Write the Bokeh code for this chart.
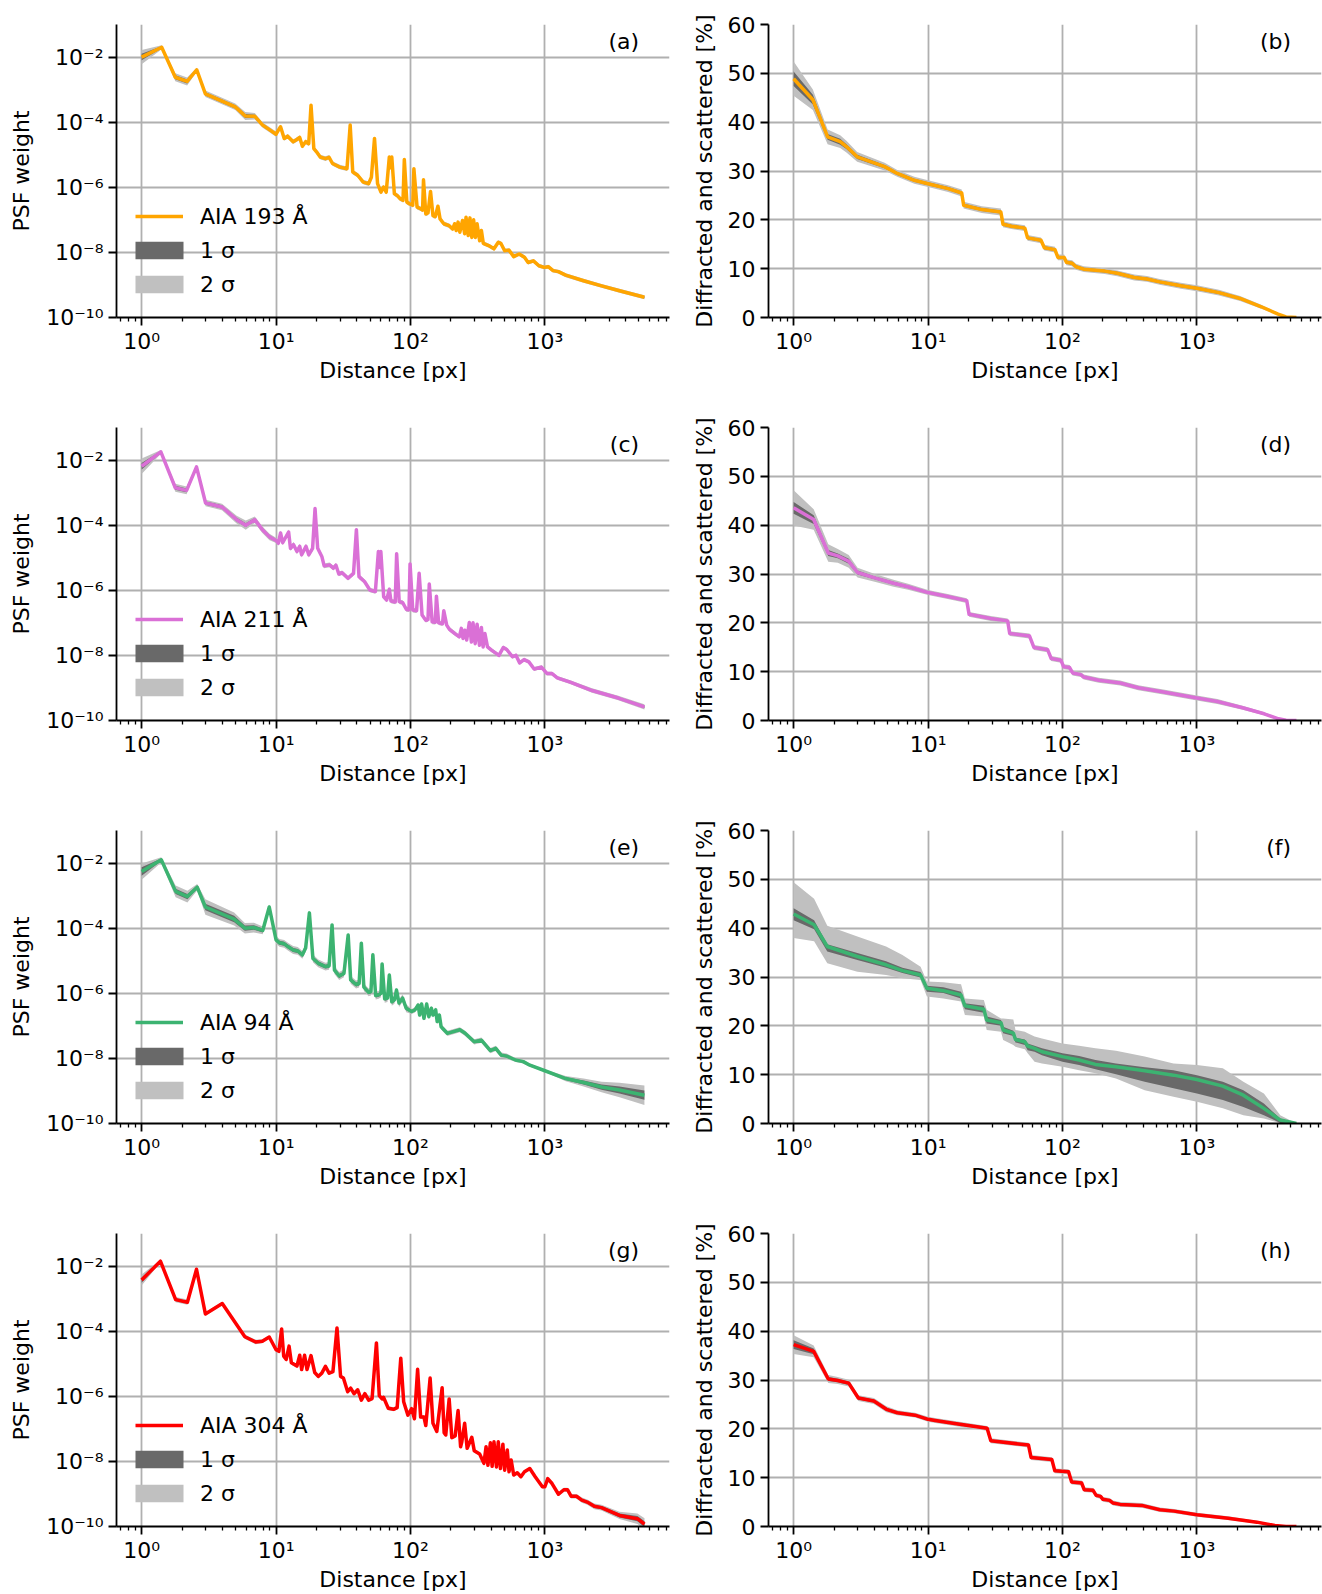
from bokeh.plotting import figure
from bokeh.layouts import gridplot
from bokeh.models import Range1d, FixedTicker, CustomJSTickFormatter, Legend, LegendItem, Label
from bokeh.core.properties import value
from bokeh.embed import file_html
from bokeh.resources import INLINE

# ---------------- data ----------------
X_TICKS = [1, 10, 100, 1000]
X_MINOR = [0.7, 0.8, 0.9, 2, 3, 4, 5, 6, 7, 8, 9, 20, 30, 40, 50, 60, 70, 80, 90,
           200, 300, 400, 500, 600, 700, 800, 900, 2000, 3000, 4000, 5000, 6000, 7000, 8000]
PSF_TICKS = [1e-10, 1e-8, 1e-6, 1e-4, 1e-2]
PCT_TICKS = [0, 10, 20, 30, 40, 50, 60]

# PSF weight: (distance px, log10 weight, 1-sigma half width dex, 2-sigma half width dex)
psf_193 = [
    (1.0, -2.00, 0.10, 0.22), (1.41, -1.70, 0.03, 0.06), (1.78, -2.62, 0.06, 0.12), (2.18, -2.75, 0.06, 0.12),
    (2.57, -2.39, 0.03, 0.06), (2.98, -3.13, 0.05, 0.10), (4.97, -3.53, 0.05, 0.10), (5.9, -3.81, 0.06, 0.12),
    (6.95, -3.82, 0.05, 0.10), (7.95, -4.09, 0.04, 0.08), (8.7, -4.20, 0.04, 0.08), (10.0, -4.37, 0.04, 0.08),
    (10.8, -4.14, 0.03, 0.07), (11.5, -4.50, 0.03, 0.07), (12.2, -4.43, 0.03, 0.07), (13.4, -4.60, 0.03, 0.07),
    (14.2, -4.54, 0.03, 0.07), (15.0, -4.47, 0.03, 0.07), (15.7, -4.74, 0.03, 0.07), (16.6, -4.60, 0.03, 0.07),
    (17.5, -4.66, 0.03, 0.07), (18.2, -3.48, 0.03, 0.06), (19.1, -4.81, 0.03, 0.07), (20.0, -4.91, 0.03, 0.07),
    (21.3, -5.07, 0.03, 0.07), (23.3, -5.12, 0.03, 0.07), (24.8, -5.08, 0.03, 0.07), (26.3, -5.27, 0.03, 0.07),
    (29.8, -5.38, 0.03, 0.07), (33.7, -5.43, 0.03, 0.07), (35.6, -4.09, 0.03, 0.06), (37.2, -5.53, 0.03, 0.07),
    (40.5, -5.63, 0.03, 0.07), (44.5, -5.84, 0.03, 0.07), (48.8, -5.89, 0.03, 0.07), (51.2, -5.69, 0.03, 0.07),
    (54.0, -4.50, 0.03, 0.06), (56.9, -5.89, 0.03, 0.07), (60.3, -6.15, 0.03, 0.07), (63.0, -5.99, 0.03, 0.07),
    (66.0, -6.15, 0.03, 0.07), (69.6, -5.07, 0.03, 0.06), (71.1, -5.40, 0.03, 0.06), (72.6, -5.07, 0.03, 0.06),
    (75.9, -6.20, 0.03, 0.07), (79.6, -6.25, 0.03, 0.07), (83.6, -6.35, 0.03, 0.07), (88.0, -6.40, 0.03, 0.07),
    (90.0, -5.15, 0.03, 0.06), (94.0, -6.46, 0.03, 0.07), (98.8, -6.51, 0.03, 0.07), (104, -6.55, 0.03, 0.07),
    (106, -5.43, 0.03, 0.06), (112, -6.61, 0.03, 0.07), (119, -6.66, 0.03, 0.07), (123, -6.70, 0.03, 0.07),
    (125, -5.77, 0.03, 0.06), (130, -6.82, 0.03, 0.07), (135, -6.79, 0.03, 0.07), (141, -6.13, 0.03, 0.06),
    (147, -6.87, 0.03, 0.07), (153, -6.90, 0.03, 0.07), (160, -6.58, 0.03, 0.06), (166, -6.97, 0.03, 0.07),
    (177, -7.12, 0.03, 0.07), (194, -7.18, 0.03, 0.07), (206, -7.28, 0.03, 0.07), (213, -7.12, 0.03, 0.06),
    (219, -7.33, 0.03, 0.06), (226, -7.07, 0.03, 0.06), (233, -7.38, 0.03, 0.06), (244, -7.02, 0.03, 0.06),
    (253, -7.43, 0.03, 0.06), (259, -6.92, 0.03, 0.06), (269, -7.48, 0.03, 0.06), (277, -6.94, 0.03, 0.06),
    (286, -7.54, 0.03, 0.06), (295, -7.00, 0.03, 0.06), (304, -7.54, 0.03, 0.06), (313, -7.12, 0.03, 0.06),
    (327, -7.64, 0.03, 0.06), (337, -7.33, 0.03, 0.06), (348, -7.72, 0.03, 0.06), (381, -7.79, 0.03, 0.06),
    (418, -7.89, 0.03, 0.06), (450, -7.69, 0.03, 0.06), (470, -7.72, 0.03, 0.06), (502, -7.95, 0.03, 0.06),
    (540, -7.93, 0.03, 0.06), (586, -8.13, 0.03, 0.06), (643, -8.05, 0.03, 0.06), (705, -8.15, 0.03, 0.06),
    (750, -8.31, 0.03, 0.06), (822, -8.26, 0.03, 0.06), (902, -8.41, 0.03, 0.06), (989, -8.46, 0.03, 0.06),
    (1060, -8.44, 0.03, 0.06), (1150, -8.56, 0.03, 0.06), (1260, -8.59, 0.03, 0.06), (1428, -8.70, 0.03, 0.06),
    (1940, -8.87, 0.03, 0.06), (2640, -9.03, 0.03, 0.06), (3590, -9.18, 0.03, 0.06), (5500, -9.38, 0.03, 0.06),
]

psf_211 = [
    (1.0, -2.19, 0.10, 0.24), (1.39, -1.75, 0.03, 0.06), (1.78, -2.85, 0.06, 0.12), (2.16, -2.93, 0.06, 0.12),
    (2.56, -2.21, 0.03, 0.06), (2.99, -3.32, 0.05, 0.10), (3.96, -3.44, 0.05, 0.10), (5.09, -3.83, 0.06, 0.12),
    (5.95, -4.00, 0.06, 0.14), (6.95, -3.83, 0.05, 0.10), (7.88, -4.13, 0.05, 0.10), (8.94, -4.36, 0.05, 0.10),
    (10.0, -4.47, 0.04, 0.08), (10.4, -4.55, 0.04, 0.08), (10.8, -4.24, 0.04, 0.08), (11.2, -4.54, 0.04, 0.08),
    (12.4, -4.21, 0.04, 0.08), (12.8, -4.71, 0.04, 0.08), (13.5, -4.60, 0.04, 0.08), (14.3, -4.81, 0.04, 0.08),
    (15.0, -4.65, 0.04, 0.08), (15.5, -4.91, 0.04, 0.08), (16.7, -4.65, 0.04, 0.08), (17.5, -4.91, 0.04, 0.08),
    (18.7, -4.71, 0.04, 0.08), (19.5, -3.49, 0.03, 0.06), (20.4, -4.71, 0.04, 0.08), (21.9, -4.96, 0.04, 0.08),
    (22.8, -5.25, 0.03, 0.07), (25.0, -5.22, 0.03, 0.07), (26.7, -5.32, 0.03, 0.07), (27.9, -5.23, 0.03, 0.07),
    (29.3, -5.50, 0.03, 0.07), (31.0, -5.46, 0.03, 0.07), (34.3, -5.63, 0.03, 0.07), (37.7, -5.48, 0.03, 0.07),
    (39.6, -4.14, 0.03, 0.06), (41.4, -5.58, 0.03, 0.07), (45.5, -5.73, 0.03, 0.07), (49.9, -5.99, 0.03, 0.07),
    (54.8, -6.04, 0.03, 0.07), (57.7, -4.81, 0.03, 0.06), (58.9, -5.30, 0.03, 0.06), (60.2, -4.81, 0.03, 0.06),
    (63.2, -6.20, 0.03, 0.07), (66.5, -6.30, 0.03, 0.07), (69.6, -5.97, 0.03, 0.07), (71.6, -6.33, 0.03, 0.07),
    (77.0, -6.36, 0.03, 0.07), (78.9, -4.88, 0.03, 0.06), (82.4, -6.35, 0.03, 0.07), (87.5, -6.38, 0.03, 0.07),
    (93.3, -6.59, 0.03, 0.07), (97.5, -6.60, 0.03, 0.07), (99.3, -5.19, 0.03, 0.06), (104, -6.61, 0.03, 0.07),
    (111, -6.63, 0.03, 0.07), (116, -5.48, 0.03, 0.06), (122, -6.76, 0.03, 0.07), (130, -6.92, 0.03, 0.07),
    (135, -6.90, 0.03, 0.07), (138, -5.81, 0.03, 0.06), (145, -6.97, 0.03, 0.07), (153, -6.98, 0.03, 0.07),
    (156, -6.18, 0.03, 0.06), (162, -7.00, 0.03, 0.07), (173, -7.03, 0.03, 0.07), (177, -6.63, 0.03, 0.06),
    (186, -7.07, 0.03, 0.07), (195, -7.20, 0.03, 0.07), (214, -7.33, 0.03, 0.07), (231, -7.43, 0.03, 0.06),
    (239, -7.17, 0.03, 0.06), (246, -7.48, 0.03, 0.06), (254, -7.23, 0.03, 0.06), (262, -7.53, 0.03, 0.06),
    (274, -6.99, 0.03, 0.06), (284, -7.59, 0.03, 0.06), (292, -7.00, 0.03, 0.06), (303, -7.64, 0.03, 0.06),
    (313, -7.04, 0.03, 0.06), (326, -7.69, 0.03, 0.06), (337, -7.14, 0.03, 0.06), (347, -7.74, 0.03, 0.06),
    (358, -7.33, 0.03, 0.06), (374, -7.74, 0.03, 0.06), (401, -7.84, 0.03, 0.06), (455, -8.00, 0.03, 0.06),
    (490, -7.76, 0.03, 0.06), (520, -7.82, 0.03, 0.06), (573, -8.04, 0.03, 0.06), (610, -8.00, 0.03, 0.06),
    (649, -8.23, 0.03, 0.06), (700, -8.13, 0.03, 0.06), (760, -8.20, 0.03, 0.06), (832, -8.42, 0.03, 0.06),
    (942, -8.36, 0.03, 0.06), (1038, -8.56, 0.03, 0.06), (1130, -8.56, 0.03, 0.06), (1237, -8.69, 0.03, 0.06),
    (1541, -8.82, 0.03, 0.06), (2245, -9.08, 0.03, 0.07), (3517, -9.31, 0.03, 0.07), (5500, -9.58, 0.04, 0.08),
]

psf_94 = [
    (1.0, -2.26, 0.13, 0.25), (1.40, -1.90, 0.04, 0.08), (1.79, -2.87, 0.08, 0.18), (2.19, -3.03, 0.08, 0.18),
    (2.59, -2.74, 0.05, 0.10), (2.98, -3.35, 0.10, 0.24), (4.88, -3.72, 0.10, 0.20), (5.86, -4.00, 0.08, 0.16),
    (6.83, -3.98, 0.07, 0.15), (7.96, -4.07, 0.06, 0.12), (8.90, -3.35, 0.04, 0.08), (10.0, -4.36, 0.06, 0.12),
    (10.6, -4.45, 0.06, 0.12), (11.5, -4.48, 0.06, 0.12), (12.4, -4.58, 0.06, 0.12), (13.4, -4.67, 0.06, 0.12),
    (14.5, -4.70, 0.06, 0.12), (15.7, -4.82, 0.06, 0.12), (16.6, -4.61, 0.06, 0.12), (17.7, -3.53, 0.04, 0.08),
    (18.8, -4.93, 0.06, 0.12), (20.6, -5.08, 0.06, 0.12), (23.3, -5.18, 0.06, 0.12), (24.8, -5.16, 0.06, 0.12),
    (26.1, -3.90, 0.04, 0.08), (27.2, -5.29, 0.06, 0.12), (29.5, -5.47, 0.06, 0.12), (32.0, -5.39, 0.06, 0.12),
    (34.4, -4.21, 0.04, 0.08), (35.9, -5.59, 0.06, 0.12), (39.4, -5.73, 0.06, 0.12), (41.5, -5.70, 0.06, 0.12),
    (43.1, -4.46, 0.04, 0.08), (45.0, -5.81, 0.06, 0.12), (48.8, -5.97, 0.06, 0.12), (50.8, -5.95, 0.06, 0.12),
    (52.5, -4.82, 0.04, 0.08), (55.1, -6.07, 0.06, 0.12), (58.0, -6.05, 0.06, 0.12), (60.3, -6.00, 0.06, 0.12),
    (61.5, -5.10, 0.04, 0.08), (64.3, -6.17, 0.06, 0.12), (67.5, -6.15, 0.06, 0.12), (69.6, -5.44, 0.04, 0.08),
    (72.6, -6.26, 0.06, 0.12), (76.0, -6.20, 0.06, 0.12), (78.7, -5.90, 0.04, 0.08), (82.2, -6.30, 0.06, 0.12),
    (87.4, -6.15, 0.06, 0.12), (92.9, -6.46, 0.06, 0.12), (102, -6.56, 0.04, 0.08), (108, -6.51, 0.04, 0.08),
    (114, -6.36, 0.04, 0.08), (117, -6.67, 0.04, 0.08), (121, -6.33, 0.04, 0.08), (126, -6.77, 0.04, 0.08),
    (132, -6.33, 0.04, 0.08), (137, -6.72, 0.04, 0.08), (143, -6.46, 0.04, 0.08), (147, -6.67, 0.04, 0.08),
    (154, -6.51, 0.04, 0.08), (158, -6.87, 0.04, 0.08), (164, -6.67, 0.04, 0.08), (169, -7.03, 0.04, 0.08),
    (188, -7.23, 0.04, 0.08), (233, -7.12, 0.04, 0.08), (255, -7.23, 0.04, 0.08), (298, -7.49, 0.04, 0.08),
    (337, -7.44, 0.04, 0.08), (393, -7.76, 0.04, 0.08), (431, -7.69, 0.04, 0.08), (473, -7.90, 0.04, 0.08),
    (520, -7.93, 0.04, 0.08), (604, -8.05, 0.03, 0.06), (690, -8.10, 0.03, 0.06), (773, -8.21, 0.03, 0.05),
    (1000, -8.38, 0.02, 0.04), (1428, -8.62, 0.04, 0.08), (1940, -8.74, 0.06, 0.12), (2640, -8.88, 0.08, 0.16),
    (3590, -8.97, 0.11, 0.22), (5500, -9.13, 0.14, 0.30),
]

psf_304 = [
    (1.0, -2.43, 0.08, 0.17), (1.38, -1.85, 0.02, 0.04), (1.79, -3.03, 0.04, 0.08), (2.19, -3.11, 0.04, 0.08),
    (2.56, -2.10, 0.02, 0.04), (2.98, -3.47, 0.03, 0.06), (3.98, -3.15, 0.03, 0.05), (5.86, -4.17, 0.04, 0.07),
    (7.05, -4.33, 0.04, 0.07), (7.9, -4.31, 0.03, 0.06), (8.9, -4.18, 0.03, 0.05), (10.0, -4.57, 0.03, 0.06),
    (10.5, -4.62, 0.03, 0.06), (11.0, -3.93, 0.03, 0.05), (11.4, -4.77, 0.03, 0.06), (11.9, -4.87, 0.03, 0.06),
    (12.5, -4.46, 0.03, 0.05), (13.0, -4.97, 0.03, 0.06), (14.3, -5.07, 0.03, 0.06), (15.0, -4.74, 0.03, 0.05),
    (15.5, -5.18, 0.03, 0.06), (16.3, -4.74, 0.03, 0.05), (17.0, -5.18, 0.03, 0.06), (18.2, -4.75, 0.03, 0.05),
    (19.4, -5.27, 0.03, 0.06), (20.6, -5.39, 0.03, 0.06), (21.9, -5.29, 0.03, 0.06), (23.3, -5.08, 0.03, 0.05),
    (24.8, -5.29, 0.03, 0.06), (26.5, -5.24, 0.03, 0.06), (28.4, -3.90, 0.03, 0.05), (30.2, -5.39, 0.03, 0.06),
    (31.7, -5.44, 0.03, 0.06), (34.1, -5.86, 0.03, 0.06), (35.9, -5.75, 0.03, 0.06), (38.0, -5.92, 0.03, 0.06),
    (40.5, -5.80, 0.03, 0.06), (43.1, -6.12, 0.03, 0.06), (45.8, -5.92, 0.03, 0.06), (48.8, -6.12, 0.03, 0.06),
    (51.8, -6.07, 0.03, 0.06), (55.8, -4.36, 0.03, 0.05), (58.6, -5.98, 0.03, 0.06), (61.5, -6.08, 0.03, 0.06),
    (63.0, -6.03, 0.03, 0.06), (68.4, -6.37, 0.03, 0.06), (74.8, -6.40, 0.03, 0.06), (79.6, -6.35, 0.03, 0.06),
    (84.7, -4.83, 0.03, 0.05), (89.0, -6.17, 0.03, 0.06), (95.7, -6.58, 0.03, 0.06), (102, -6.38, 0.03, 0.06),
    (107, -6.69, 0.03, 0.06), (113, -5.17, 0.03, 0.05), (119, -6.64, 0.03, 0.06), (126, -6.64, 0.03, 0.06),
    (130, -6.90, 0.03, 0.06), (140, -5.44, 0.03, 0.05), (147, -6.83, 0.03, 0.06), (157, -7.08, 0.03, 0.06),
    (172, -5.74, 0.03, 0.05), (178, -7.12, 0.03, 0.06), (183, -7.19, 0.03, 0.06), (194, -6.08, 0.03, 0.05),
    (203, -7.27, 0.03, 0.06), (215, -7.22, 0.03, 0.06), (226, -6.44, 0.03, 0.05), (236, -7.55, 0.03, 0.06),
    (241, -7.40, 0.03, 0.06), (253, -6.83, 0.03, 0.05), (264, -7.60, 0.03, 0.06), (286, -7.26, 0.03, 0.06),
    (298, -7.67, 0.03, 0.06), (327, -7.77, 0.03, 0.06), (352, -8.06, 0.03, 0.05), (365, -7.55, 0.03, 0.05),
    (377, -8.12, 0.03, 0.05), (393, -7.43, 0.03, 0.05), (405, -8.15, 0.03, 0.05), (418, -7.40, 0.03, 0.05),
    (436, -8.17, 0.03, 0.05), (450, -7.40, 0.03, 0.05), (467, -8.22, 0.03, 0.05), (487, -7.47, 0.03, 0.05),
    (502, -8.27, 0.03, 0.05), (525, -7.65, 0.03, 0.05), (541, -8.32, 0.03, 0.05), (561, -7.96, 0.03, 0.05),
    (586, -8.42, 0.03, 0.05), (623, -8.35, 0.03, 0.05), (663, -8.47, 0.03, 0.05), (705, -8.32, 0.03, 0.05),
    (772, -8.22, 0.03, 0.05), (847, -8.47, 0.03, 0.05), (958, -8.78, 0.03, 0.05), (1000, -8.78, 0.03, 0.05),
    (1050, -8.53, 0.03, 0.05), (1130, -8.68, 0.03, 0.05), (1262, -9.01, 0.03, 0.06), (1384, -8.87, 0.03, 0.06),
    (1472, -8.87, 0.03, 0.06), (1566, -9.07, 0.04, 0.07), (1717, -9.07, 0.04, 0.07), (1882, -9.19, 0.04, 0.08),
    (2065, -9.25, 0.04, 0.08), (2333, -9.38, 0.05, 0.09), (2636, -9.42, 0.05, 0.09), (3589, -9.66, 0.06, 0.11),
    (4877, -9.76, 0.08, 0.16), (5510, -9.93, 0.09, 0.18),
]

# Diffracted and scattered fraction [%]: (distance px, value, 1-sigma half width, 2-sigma half width)
cum_193 = [
    (1.0, 48.9, 1.5, 3.5), (1.39, 44.6, 1.0, 2.1), (1.79, 37.0, 0.6, 1.5), (2.22, 36.0, 0.6, 1.3),
    (2.47, 35.0, 0.5, 1.2), (2.97, 32.9, 0.45, 1.0), (4.75, 30.9, 0.35, 0.8), (5.9, 29.5, 0.3, 0.7),
    (7.9, 28.1, 0.3, 0.7), (10.0, 27.4, 0.3, 0.7), (14.1, 26.4, 0.3, 0.7), (17.8, 25.5, 0.3, 0.7),
    (18.4, 23.0, 0.3, 0.7), (25.1, 22.1, 0.3, 0.7), (34.8, 21.6, 0.3, 0.7), (36.1, 19.1, 0.3, 0.6),
    (41.7, 18.7, 0.3, 0.6), (52.5, 18.3, 0.3, 0.6), (55.0, 16.3, 0.3, 0.6), (69.2, 15.8, 0.3, 0.6),
    (73.3, 14.3, 0.3, 0.6), (87.9, 13.9, 0.3, 0.6), (92.5, 12.3, 0.3, 0.6), (103, 12.3, 0.3, 0.6),
    (107, 11.3, 0.3, 0.6), (118, 11.1, 0.3, 0.6), (126, 10.4, 0.3, 0.6), (144, 9.9, 0.3, 0.6),
    (206, 9.5, 0.3, 0.6), (256, 9.05, 0.3, 0.6), (342, 8.2, 0.3, 0.6), (425, 7.9, 0.3, 0.6),
    (528, 7.3, 0.3, 0.6), (758, 6.5, 0.3, 0.6), (1000, 6.0, 0.3, 0.6), (1459, 5.1, 0.3, 0.6),
    (2096, 3.9, 0.25, 0.5), (3013, 2.2, 0.2, 0.4), (4021, 0.7, 0.1, 0.2), (4600, 0.1, 0.05, 0.1),
    (5500, 0.0, 0.0, 0.0),
]

cum_211 = [
    (1.0, 43.55, 1.2, 3.6), (1.41, 41.15, 0.9, 2.1), (1.81, 34.3, 0.6, 1.8), (2.13, 33.7, 0.5, 1.4),
    (2.57, 32.6, 0.5, 1.3), (2.99, 30.3, 0.4, 1.0), (4.07, 29.15, 0.3, 0.8), (5.54, 28.1, 0.3, 0.7),
    (7.1, 27.4, 0.25, 0.6), (10.0, 26.2, 0.2, 0.5), (14.0, 25.4, 0.2, 0.5), (19.4, 24.55, 0.2, 0.5),
    (20.2, 21.74, 0.2, 0.5), (29.3, 20.9, 0.2, 0.5), (39.1, 20.4, 0.2, 0.5), (40.5, 17.8, 0.2, 0.5),
    (56.9, 17.3, 0.2, 0.5), (61.3, 14.95, 0.2, 0.5), (77.5, 14.5, 0.2, 0.5), (82.4, 12.7, 0.2, 0.5),
    (97.3, 12.35, 0.2, 0.5), (102, 11.0, 0.2, 0.5), (113, 10.84, 0.2, 0.5), (119, 9.74, 0.2, 0.5),
    (137, 9.4, 0.2, 0.5), (144, 8.9, 0.2, 0.5), (186, 8.23, 0.2, 0.5), (269, 7.68, 0.2, 0.5),
    (366, 6.72, 0.2, 0.5), (563, 5.83, 0.2, 0.5), (1000, 4.6, 0.2, 0.5), (1419, 3.9, 0.2, 0.5),
    (2187, 2.6, 0.2, 0.4), (3163, 1.37, 0.15, 0.3), (4047, 0.34, 0.1, 0.2), (4600, 0.05, 0.03, 0.05),
    (5500, 0.0, 0.0, 0.0),
]

# (distance px, value, 1-sigma low, 1-sigma high, 2-sigma low, 2-sigma high)
cum_94 = [
    (1.0, 42.9, 41.6, 44.1, 38.0, 49.4), (1.42, 40.7, 39.8, 41.6, 37.3, 46.0),
    (1.78, 36.25, 35.2, 36.7, 32.8, 40.5), (2.98, 34.2, 33.5, 34.9, 31.1, 38.3),
    (4.87, 32.5, 31.9, 33.2, 30.4, 36.25), (6.45, 31.3, 30.8, 31.9, 29.75, 34.5),
    (8.8, 30.4, 29.9, 31.0, 29.4, 32.1), (9.8, 27.7, 27.0, 28.2, 26.0, 29.1),
    (13.0, 27.2, 26.7, 27.9, 25.6, 28.9), (17.6, 26.3, 25.6, 27.0, 25.0, 28.5),
    (18.8, 24.1, 23.4, 24.6, 22.2, 25.6), (26.0, 23.4, 22.7, 24.1, 21.9, 25.3),
    (27.3, 21.2, 20.5, 21.9, 19.15, 23.3), (34.9, 20.65, 20.0, 21.2, 18.8, 21.5),
    (36.2, 19.15, 18.5, 19.8, 17.1, 21.5), (43.1, 18.5, 17.9, 19.0, 16.1, 21.3),
    (44.7, 17.2, 16.6, 17.6, 15.7, 19.15), (52.5, 16.75, 16.1, 17.2, 15.2, 18.8),
    (55.1, 15.87, 15.0, 16.4, 14.4, 18.5), (62.0, 15.4, 14.7, 15.9, 12.65, 17.8),
    (70.4, 14.7, 14.0, 15.4, 12.3, 17.4), (100, 13.7, 12.65, 14.4, 11.6, 16.4),
    (133, 13.0, 12.0, 13.8, 10.9, 15.9), (176, 12.1, 11.1, 13.0, 10.3, 15.4),
    (250, 11.6, 10.1, 12.3, 9.2, 14.9), (409, 10.8, 8.55, 11.5, 6.8, 13.7),
    (670, 9.9, 7.2, 10.9, 5.5, 12.3), (1000, 9.0, 6.15, 9.9, 4.45, 12.0),
    (1560, 7.66, 4.8, 8.55, 3.1, 11.3), (2217, 5.8, 3.4, 6.8, 1.7, 8.55),
    (3150, 3.1, 1.7, 4.1, 1.0, 6.15), (4170, 0.7, 0.1, 1.0, 0.1, 1.7),
    (5500, 0.0, 0.0, 0.0, 0.0, 0.0),
]

cum_304 = [
    (1.0, 37.24, 0.9, 1.9), (1.41, 35.87, 0.6, 1.2), (1.81, 30.2, 0.4, 0.8), (2.13, 29.9, 0.35, 0.7),
    (2.57, 29.35, 0.35, 0.7), (3.03, 26.3, 0.3, 0.6), (3.95, 25.7, 0.3, 0.6), (4.9, 24.0, 0.3, 0.6),
    (5.9, 23.3, 0.25, 0.5), (8.0, 22.8, 0.25, 0.5), (10.0, 21.95, 0.25, 0.5), (11.3, 21.7, 0.25, 0.5),
    (15.8, 21.1, 0.25, 0.5), (27.5, 20.1, 0.25, 0.5), (29.3, 17.56, 0.25, 0.5), (55.9, 16.67, 0.25, 0.5),
    (58.4, 14.13, 0.25, 0.5), (83.4, 13.7, 0.25, 0.5), (87.7, 11.4, 0.25, 0.5), (111, 11.2, 0.25, 0.5),
    (117, 9.12, 0.25, 0.5), (139, 8.9, 0.25, 0.5), (145, 7.54, 0.25, 0.5), (169, 7.4, 0.25, 0.5),
    (178, 6.38, 0.25, 0.5), (192, 6.17, 0.25, 0.5), (200, 5.56, 0.25, 0.5), (224, 5.35, 0.25, 0.5),
    (238, 4.8, 0.25, 0.5), (269, 4.53, 0.25, 0.5), (389, 4.32, 0.25, 0.5), (530, 3.43, 0.2, 0.45),
    (677, 3.15, 0.2, 0.45), (1000, 2.4, 0.2, 0.4), (1707, 1.71, 0.2, 0.4), (2795, 0.89, 0.15, 0.3),
    (3800, 0.2, 0.1, 0.15), (4600, 0.02, 0.02, 0.02), (5500, 0.0, 0.0, 0.0),
]

# ---------------- styling ----------------
FONT = "DejaVu Sans"
FS = "22px"
GRID = "#b0b0b0"
SIG1 = "#696969"
SIG2 = "#c0c0c0"
LOGX_LO, LOGX_HI = -0.187, 3.927
LW = 3.5

SUP_JS = """
const s = {"0":"\u2070","1":"\u00b9","2":"\u00b2","3":"\u00b3","4":"\u2074","5":"\u2075",
           "6":"\u2076","7":"\u2077","8":"\u2078","9":"\u2079","-":"\u207b"};
const e = Math.round(Math.log10(tick));
return "10" + String(e).split("").map(c => s[c]).join("");
"""


def make_fig(left, width, height, bottom, ylog):
    p = figure(width=width, height=height, x_axis_type="log",
               y_axis_type="log" if ylog else "linear",
               x_range=Range1d(10 ** LOGX_LO, 10 ** LOGX_HI),
               y_range=Range1d(1e-10, 1e-1) if ylog else Range1d(0, 60),
               output_backend="svg", toolbar_location=None,
               min_border_left=left, min_border_right=width - left - 553,
               min_border_top=24, min_border_bottom=bottom)
    p.outline_line_color = None
    p.background_fill_color = "white"
    p.border_fill_color = "white"
    xt = FixedTicker(ticks=X_TICKS, minor_ticks=X_MINOR)
    yt = FixedTicker(ticks=PSF_TICKS if ylog else PCT_TICKS, minor_ticks=[])
    p.xaxis.ticker = xt
    p.yaxis.ticker = yt
    p.xgrid.ticker = xt
    p.ygrid.ticker = yt
    p.xaxis.formatter = CustomJSTickFormatter(code=SUP_JS)
    if ylog:
        p.yaxis.formatter = CustomJSTickFormatter(code=SUP_JS)
    for g in (p.xgrid, p.ygrid):
        g.grid_line_color = GRID
        g.grid_line_width = 1.8
    for ax in (p.xaxis, p.yaxis):
        ax.axis_line_color = "black"
        ax.axis_line_width = 1.8
        ax.major_tick_line_color = "black"
        ax.major_tick_line_width = 1.8
        ax.major_tick_out = 8
        ax.major_tick_in = 0
        ax.minor_tick_line_color = "black"
        ax.minor_tick_line_width = 1.3
        ax.minor_tick_out = 4
        ax.minor_tick_in = 0
        ax.major_label_text_font = FONT
        ax.major_label_text_font_size = FS
        ax.major_label_text_color = "black"
        ax.axis_label_text_font = FONT
        ax.axis_label_text_font_size = FS
        ax.axis_label_text_font_style = "normal"
        ax.axis_label_text_color = "black"
    p.xaxis.axis_label = "Distance [px]"
    p.xaxis.major_label_standoff = 3
    p.xaxis.axis_label_standoff = 1
    p.yaxis.major_label_standoff = 5
    return p


def add_tag(p, tag, ylog):
    fx = 10 ** (LOGX_LO + 0.945 * (LOGX_HI - LOGX_LO))
    fy = 10 ** (-10 + 0.942 * 9) if ylog else 0.942 * 60
    p.add_layout(Label(x=fx, y=fy, text=tag, text_align="right", text_baseline="middle",
                       text_font=FONT, text_font_size=FS, text_color="black"))


def legend_box(items, loc, gw, gh, standoff):
    return Legend(items=items, location=loc, padding=0, margin=0, spacing=8,
                  glyph_width=gw, glyph_height=gh, label_height=26, label_standoff=standoff,
                  label_text_font=FONT, label_text_font_size=FS, label_text_color="black",
                  border_line_color=None, background_fill_alpha=0)


def psf_panel(rows, color, name, tag, height, bottom):
    p = make_fig(116, 680, height, bottom, True)
    p.yaxis.axis_label = "PSF weight"
    p.yaxis.axis_label_standoff = 9
    x = [r[0] for r in rows]
    y = [10 ** r[1] for r in rows]
    lo1 = [10 ** (r[1] - r[2]) for r in rows]
    hi1 = [10 ** (r[1] + r[2]) for r in rows]
    lo2 = [10 ** (r[1] - r[3]) for r in rows]
    hi2 = [10 ** (r[1] + r[3]) for r in rows]
    v2 = p.varea(x=x, y1=lo2, y2=hi2, fill_color=SIG2)
    v1 = p.varea(x=x, y1=lo1, y2=hi1, fill_color=SIG1)
    ln = p.line(x, y, line_color=color, line_width=LW, line_join="round")
    # line entry on top, the two band entries below (area swatches are drawn inset by the library)
    p.add_layout(legend_box([LegendItem(label=value(name), renderers=[ln])], (19, 88), 48, 22, 17))
    p.add_layout(legend_box([LegendItem(label=value("1 σ"), renderers=[v1]),
                             LegendItem(label=value("2 σ"), renderers=[v2])], (13, 20), 60, 22, 11))
    add_tag(p, tag, True)
    return p


def cum_panel(rows, color, tag, height, bottom):
    p = make_fig(88, 642, height, bottom, False)
    p.yaxis.axis_label = "Diffracted and scattered [%]"
    p.yaxis.axis_label_standoff = 8
    x = [r[0] for r in rows]
    y = [r[1] for r in rows]
    if len(rows[0]) == 6:
        lo1 = [r[2] for r in rows]
        hi1 = [r[3] for r in rows]
        lo2 = [r[4] for r in rows]
        hi2 = [r[5] for r in rows]
    else:
        lo1 = [r[1] - r[2] for r in rows]
        hi1 = [r[1] + r[2] for r in rows]
        lo2 = [r[1] - r[3] for r in rows]
        hi2 = [r[1] + r[3] for r in rows]
    p.varea(x=x, y1=lo2, y2=hi2, fill_color=SIG2)
    p.varea(x=x, y1=lo1, y2=hi1, fill_color=SIG1)
    p.line(x, y, line_color=color, line_width=LW, line_join="round")
    add_tag(p, tag, False)
    return p


pa = psf_panel(psf_193, "#ffa500", "AIA 193 Å", "(a)", 403, 86)
pb = cum_panel(cum_193, "#ffa500", "(b)", 403, 86)
pc = psf_panel(psf_211, "#da70d6", "AIA 211 Å", "(c)", 403, 86)
pd = cum_panel(cum_211, "#da70d6", "(d)", 403, 86)
pe = psf_panel(psf_94, "#3cb371", "AIA 94 Å", "(e)", 403, 86)
pf = cum_panel(cum_94, "#3cb371", "(f)", 403, 86)
pg = psf_panel(psf_304, "#ff0000", "AIA 304 Å", "(g)", 385, 68)
ph = cum_panel(cum_304, "#ff0000", "(h)", 385, 68)

p = gridplot([[pa, pb], [pc, pd], [pe, pf], [pg, ph]], toolbar_location=None)

open("out.html", "w", encoding="utf-8").write(file_html(p, INLINE))
